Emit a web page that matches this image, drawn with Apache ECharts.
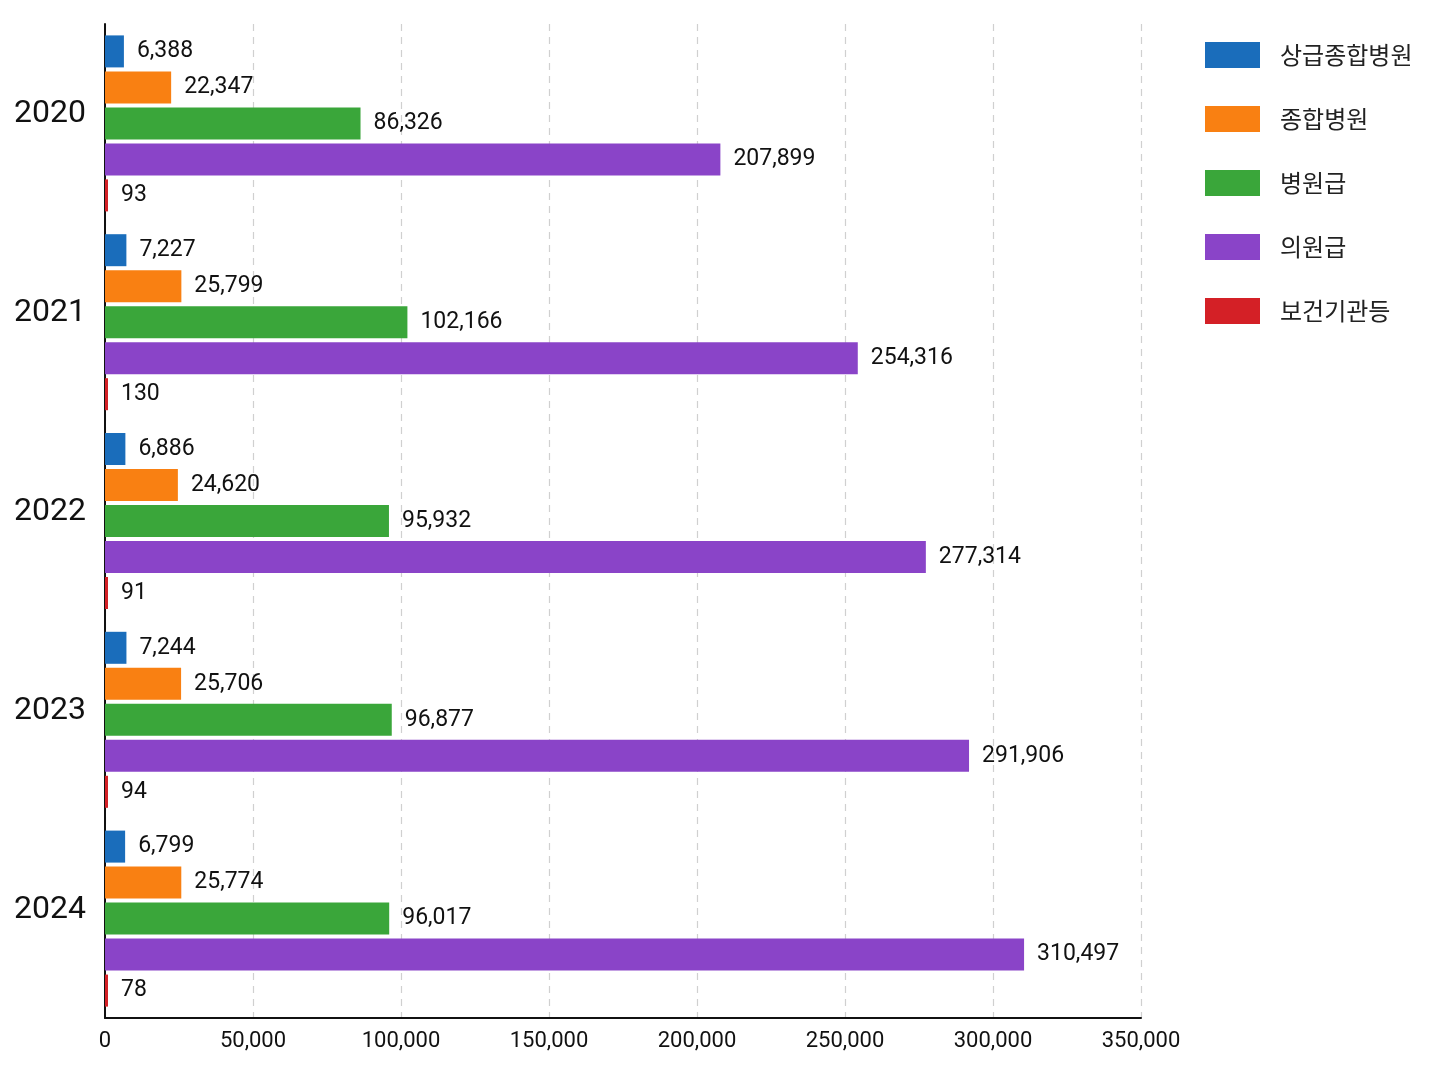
<!DOCTYPE html>
<html>
<head>
<meta charset="utf-8">
<script src="https://cdn.jsdelivr.net/npm/echarts@6/dist/echarts.min.js"></script>
<style>
  html, body { margin: 0; padding: 0; background: #fff; }
  #chart { width: 1448px; height: 1086px; }
</style>
</head>
<body>
<div id="chart"></div>
<script>
// years on the y axis (top to bottom)
let years = ['2020', '2021', '2022', '2023', '2024']
let series_names = ['상급종합병원', '종합병원', '병원급', '의원급', '보건기관등']

let tertiary = [6388, 7227, 6886, 7244, 6799]
let general = [22347, 25799, 24620, 25706, 25774]
let hospital = [86326, 102166, 95932, 96877, 96017]
let clinic = [207899, 254316, 277314, 291906, 310497]
let health_center = [93, 130, 91, 94, 78]

let colors = ['#1a6dbb', '#f98012', '#3aa63a', '#8a44c8', '#d42026']
let font = "'Roboto', 'Noto Sans CJK KR', sans-serif"

let values = [tertiary, general, hospital, clinic, health_center]

var series = values.map((arr, i) => {
    return {
        name: series_names[i],
        type: 'bar',
        data: arr,
        barWidth: 32,
        barGap: '12.5%',
        barMinHeight: i === 4 ? 3 : 0,
        itemStyle: {color: colors[i]},
        label: {
            show: true,
            position: 'right',
            distance: 13,
            fontSize: 23,
            fontFamily: font,
            color: '#111',
            formatter: p => p.value.toLocaleString('en-US')
        }
    }
})

echarts.init(document.getElementById('chart')).setOption({
    animation: false,
    grid: {left: 105, right: 307, top: 24, bottom: 68},
    legend: {
        orient: 'vertical',
        left: 1205,
        top: 42,
        padding: 0,
        itemWidth: 55,
        itemHeight: 26,
        itemGap: 38,
        icon: 'rect',
        textStyle: {fontSize: 24, fontFamily: "'Noto Sans CJK KR', sans-serif", color: '#222', padding: [0, 0, 0, 15]},
        data: series_names
    },
    xAxis: {
        type: 'value',
        min: 0,
        max: 350000,
        interval: 50000,
        axisLine: {show: true, lineStyle: {color: '#111', width: 2}},
        axisTick: {show: false},
        axisLabel: {
            fontSize: 22,
            fontFamily: font,
            color: '#111',
            margin: 12,
            formatter: v => v.toLocaleString('en-US')
        },
        splitLine: {show: true, lineStyle: {color: '#d0d0d0', type: [7, 6], width: 1.2}}
    },
    yAxis: {
        type: 'category',
        data: years,
        inverse: true,
        axisLine: {show: true, lineStyle: {color: '#111', width: 2}},
        axisTick: {show: false},
        axisLabel: {fontSize: 32, fontFamily: font, color: '#111', margin: 19, verticalAlign: 'bottom', lineHeight: 18},
        splitLine: {show: false}
    },
    series: series
});
</script>
</body>
</html>
